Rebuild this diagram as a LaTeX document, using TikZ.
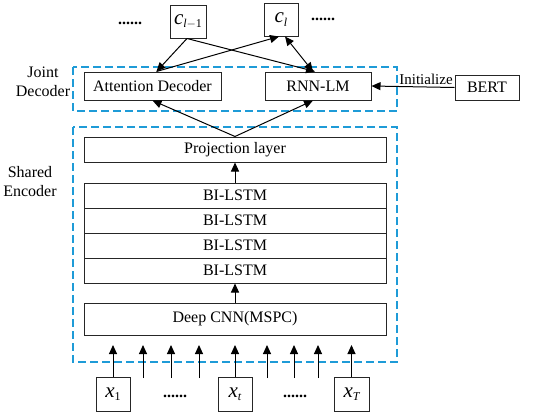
\documentclass[tikz,border=0pt]{standalone}
\usepackage{fontspec}
\setmainfont{Liberation Serif}
\usetikzlibrary{arrows.meta,calc}
\definecolor{dashblue}{RGB}{30,155,215}
\begin{document}
\begin{tikzpicture}[x=1pt,y=-1pt,
  box/.style={draw=black!85, line width=1pt, inner sep=0pt, font=\fontsize{16}{18}\selectfont},
  grp/.style={draw=dashblue, line width=1.4pt, dash pattern=on 8pt off 4pt},
  arr/.style={line width=1pt, -{Triangle[length=9pt,width=8pt]}},
  darr/.style={line width=1pt, {Triangle[length=9pt,width=8pt]}-{Triangle[length=9pt,width=8pt]}},
  lbl/.style={align=center, inner sep=0pt, font=\fontsize{16}{19}\selectfont},
  dots/.style={inner sep=0pt, font=\fontsize{16}{18}\selectfont\bfseries},
  sym/.style={box, font=\fontsize{21}{22}\selectfont\itshape}
]
\useasboundingbox (0,0) rectangle (550,416);
% groups
\draw[grp] (73,67) rectangle (397,111);
\draw[grp] (73,127) rectangle (397,362);
\node[lbl] (jl) at (43,82) {Joint\\Decoder};
\node[lbl] (sl) at (30,182) {Shared\\Encoder};
% top outputs
\node[sym, minimum width=36pt, minimum height=33pt] (cl1) at (188,21.5) {c\raisebox{-0.35ex}{\fontsize{12}{12}\selectfont l\upshape$-$1}};
\node[sym, minimum width=34pt, minimum height=33pt] (cl) at (281,19.5) {c\raisebox{-0.35ex}{\fontsize{12}{12}\selectfont l}};
\node[dots] (d1) at (130,23) {......};
\node[dots] (d2) at (323,19) {......};
% decoder
\node[box, minimum width=137pt, minimum height=28pt] (att) at (152.5,86) {Attention Decoder};
\node[box, minimum width=106pt, minimum height=28pt] (rnn) at (318,86) {RNN-LM};
\node[box, minimum width=64pt, minimum height=25pt] (bert) at (487,87.5) {BERT};
\node[inner sep=0pt, font=\fontsize{15}{16}\selectfont] (init) at (426,79) {Initialize};
% encoder
\node[box, minimum width=302pt, minimum height=25pt] (proj) at (235,149.5) {Projection layer};
\node[box, minimum width=302pt, minimum height=25pt] (l1) at (235,195.5) {BI-LSTM};
\node[box, minimum width=302pt, minimum height=25pt] (l2) at (235,220.5) {BI-LSTM};
\node[box, minimum width=302pt, minimum height=25pt] (l3) at (235,245.5) {BI-LSTM};
\node[box, minimum width=302pt, minimum height=25pt] (l4) at (235,270.5) {BI-LSTM};
\node[box, minimum width=302pt, minimum height=32pt] (cnn) at (235,319) {Deep CNN(MSPC)};
% inputs
\node[sym, minimum width=34pt, minimum height=34pt] (x1) at (113,394) {x\raisebox{-0.35ex}{\fontsize{12}{12}\selectfont\upshape 1}};
\node[sym, minimum width=34pt, minimum height=34pt] (xt) at (235,394) {x\raisebox{-0.35ex}{\fontsize{12}{12}\selectfont t}};
\node[sym, minimum width=35pt, minimum height=34pt] (xT) at (351.5,394) {x\raisebox{-0.35ex}{\fontsize{12}{12}\selectfont T}};
\node[dots] (d3) at (175,396) {......};
\node[dots] (d4) at (295,396) {......};
% input arrows
\foreach \n in {x1,xt,xT} \draw[arr] (\n.north) -- (\n.north |- 0,345) coordinate (tip\n);
\foreach \x [count=\i] in {143,171,199,267,294,318} {
  \coordinate (s\i) at (\x,378);
  \coordinate (e\i) at (\x,345);
  \draw[arr] (s\i) -- (e\i);
}
% encoder arrows
\draw[arr] (cnn.north) -- (l4.south);
\draw[arr] (l1.north) -- (proj.south);
\draw[arr] (proj.north) -- ([xshift=0pt]att.south);
\draw[arr] (proj.north) -- ([xshift=-5pt]rnn.south);
% decoder arrows
\draw[arr] (bert.west) -- (rnn.east);
\draw[arr] ([xshift=-1pt]cl1.south) -- ([xshift=4pt]att.north);
\draw[arr] ([xshift=-1pt]cl1.south) -- ([xshift=-3pt]rnn.north);
\draw[arr] ([xshift=4pt]att.north) -- ([xshift=-2pt]cl.south);
\draw[darr] ([xshift=4pt]cl.south) -- ([xshift=-5pt]rnn.north);
\end{tikzpicture}
\end{document}
